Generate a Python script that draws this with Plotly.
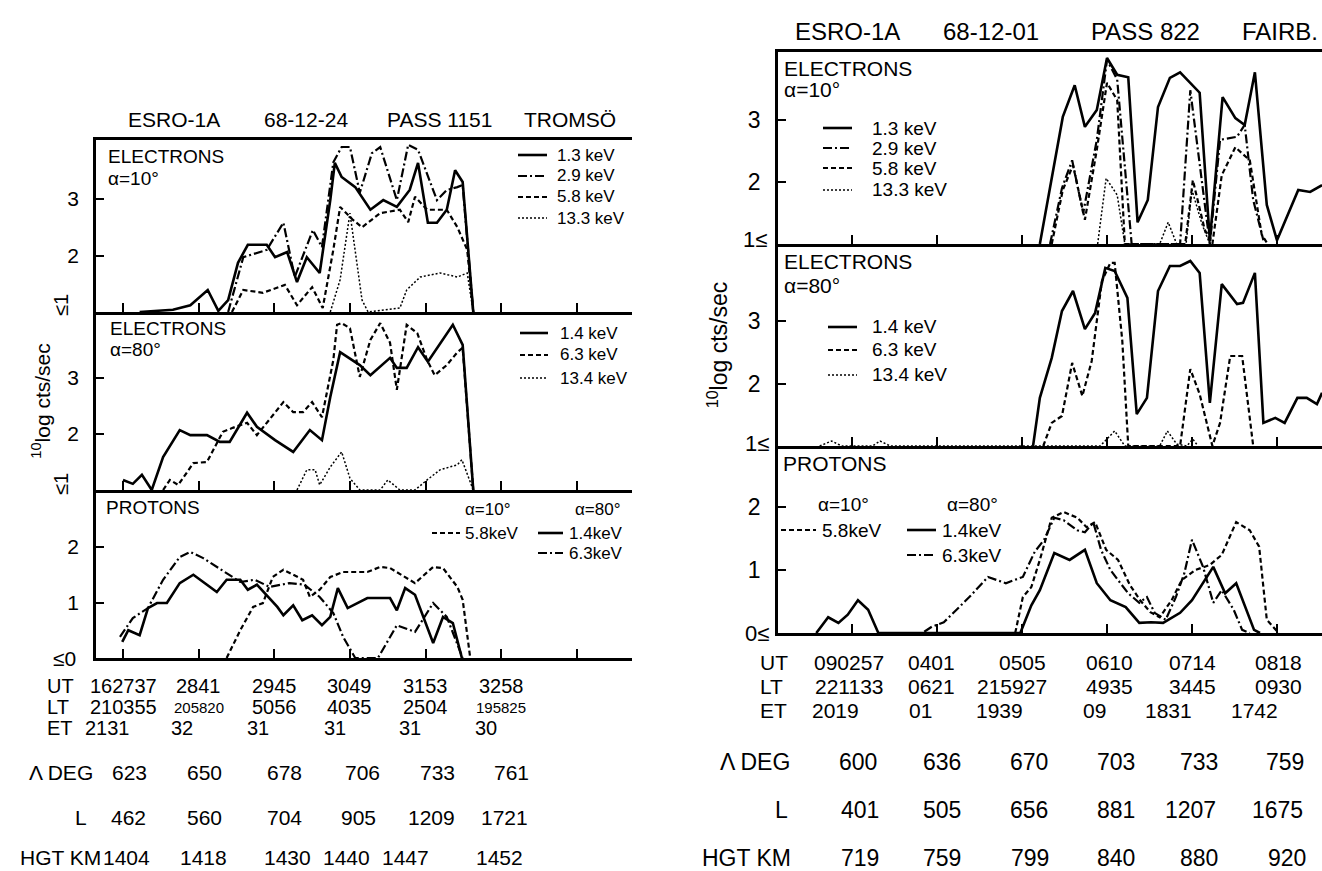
import plotly.graph_objects as go

W, H = 1322, 871
FONT = "Liberation Sans, Arial, Helvetica, sans-serif"

# ---------------- DATA ----------------
# x in UT-tick units (0 = first labelled UT tick), y = 10log cts/sec
# Left panel: ESRO-1A 68-12-24 PASS 1151 TROMSO
L_e10_13_x = [0.22,0.66,0.89,1.12,1.26,1.39,1.52,1.65,1.90,2.01,2.17,2.30,2.43,2.60,2.74,2.80,2.89,3.07,3.27,3.44,3.62,3.79,3.90,4.03,4.15,4.28,4.39,4.49,4.63]
L_e10_13_y = [1.0,1.04,1.12,1.39,1.02,1.21,1.87,2.19,2.19,1.97,2.06,1.53,1.97,1.69,2.98,3.64,3.39,3.21,2.81,2.98,2.86,3.16,3.64,2.58,2.58,2.81,3.51,3.30,1.0]
L_e10_29_x = [1.39,1.59,1.90,2.12,2.27,2.51,2.63,2.78,2.89,3.00,3.13,3.29,3.40,3.62,3.77,3.90,4.15,4.28,4.42,4.49,4.63]
L_e10_29_y = [1.0,1.97,2.10,2.58,1.62,2.45,2.15,3.65,3.92,3.92,3.11,3.81,3.92,2.98,3.96,3.87,2.98,3.16,3.21,3.25,1.0]
L_e10_58_x = [1.44,1.59,1.85,2.14,2.30,2.50,2.64,2.78,2.87,3.04,3.16,3.40,3.66,3.77,3.86,4.02,4.28,4.42,4.55,4.63]
L_e10_58_y = [1.0,1.39,1.34,1.48,1.12,1.44,1.07,2.10,2.86,2.63,2.50,2.75,2.81,2.59,3.04,2.81,2.81,2.50,2.10,1.0]
L_e10_133_x = [2.74,2.87,3.00,3.16,3.24,3.66,3.75,3.93,4.19,4.42,4.55,4.63]
L_e10_133_y = [1.0,1.57,2.75,1.21,1.0,1.07,1.39,1.62,1.69,1.62,1.69,1.0]

L_e80_14_x = [0.0,0.13,0.25,0.38,0.53,0.75,0.89,1.11,1.28,1.41,1.64,1.77,2.01,2.25,2.47,2.63,2.74,2.87,3.13,3.27,3.53,3.62,3.75,3.90,4.03,4.36,4.49,4.63]
L_e80_14_y = [1.18,1.11,1.27,1.0,1.59,2.07,1.98,1.98,1.86,1.86,2.38,2.13,1.89,1.68,2.07,1.89,2.66,3.46,3.23,3.05,3.36,3.18,3.18,3.55,3.29,3.95,3.59,1.0]
L_e80_63_x = [0.53,0.62,0.73,0.93,1.11,1.32,1.45,1.64,1.77,2.12,2.25,2.38,2.50,2.63,2.78,2.83,2.89,3.00,3.13,3.27,3.40,3.53,3.62,3.75,3.89,4.02,4.12,4.28,4.42,4.49,4.63]
L_e80_63_y = [1.0,1.18,1.09,1.48,1.50,2.04,2.11,2.20,1.98,2.57,2.39,2.39,2.57,2.30,3.32,3.95,3.98,3.89,3.02,3.68,3.98,3.63,2.79,3.95,3.80,3.32,3.05,3.23,3.46,3.54,1.0]
L_e80_134_x = [2.30,2.43,2.54,2.60,2.74,2.89,3.00,3.13,3.40,3.50,3.66,3.86,4.02,4.19,4.42,4.48,4.63]
L_e80_134_y = [1.0,1.36,1.36,1.09,1.41,1.68,1.21,1.0,1.0,1.18,1.0,1.0,1.18,1.36,1.45,1.54,1.0]

L_p10_58_x = [1.37,1.55,1.72,1.85,1.98,2.12,2.25,2.38,2.47,2.60,2.74,2.91,3.23,3.40,3.53,3.86,4.10,4.23,4.42,4.49,4.59]
L_p10_58_y = [0.0,0.50,0.92,0.99,1.46,1.59,1.50,1.41,1.10,1.23,1.46,1.55,1.55,1.64,1.62,1.35,1.64,1.62,1.28,1.05,0.0]
L_p80_14_x = [-0.01,0.07,0.22,0.33,0.45,0.58,0.75,0.93,1.11,1.24,1.37,1.55,1.65,1.77,2.04,2.12,2.25,2.37,2.50,2.63,2.74,2.84,2.97,3.23,3.53,3.62,3.73,3.86,4.10,4.23,4.36,4.48]
L_p80_14_y = [0.29,0.50,0.41,0.90,0.99,0.99,1.35,1.50,1.32,1.19,1.41,1.41,1.23,1.32,0.92,0.77,0.95,0.68,0.77,0.59,0.74,1.26,0.90,1.08,1.08,0.86,1.26,1.14,0.27,0.74,0.63,0.0]
L_p80_63_x = [-0.04,0.13,0.33,0.53,0.75,0.89,1.06,1.37,1.55,1.74,1.94,2.20,2.40,2.60,2.78,2.91,3.07,3.37,3.62,3.86,4.10,4.28,4.43,4.49]
L_p80_63_y = [0.38,0.72,0.90,1.41,1.82,1.91,1.80,1.53,1.37,1.41,1.28,1.35,1.32,1.10,0.81,0.38,0.0,0.0,0.59,0.47,0.99,0.74,0.20,0.0]

# Right panel: ESRO-1A 68-12-01 PASS 822 FAIRB.
R_e10_13_x = [2.21,2.48,2.62,2.74,2.88,3.00,3.12,3.25,3.36,3.48,3.60,3.74,3.86,4.09,4.21,4.36,4.51,4.62,4.74,4.88,5.00,5.25,5.39,5.53]
R_e10_13_y = [1.0,3.05,3.56,2.89,3.16,4.0,3.73,3.69,1.35,1.71,3.21,3.68,3.77,3.44,1.06,3.37,3.03,2.92,3.77,1.63,1.06,1.87,1.84,1.95]
R_e10_29_x = [2.33,2.47,2.59,2.72,2.88,3.00,3.12,3.19,3.29,3.86,3.98,4.21,4.33,4.53,4.62,4.72,4.84]
R_e10_29_y = [1.0,1.90,2.35,1.50,2.68,3.97,3.65,2.52,1.0,1.0,3.48,1.0,2.68,2.73,2.92,1.71,1.06]
R_e10_58_x = [2.35,2.48,2.60,2.74,2.88,3.00,3.12,3.21,3.92,4.01,4.15,4.24,4.35,4.51,4.68,4.82,4.89]
R_e10_58_y = [1.0,1.87,2.27,1.39,2.52,3.60,3.32,1.0,1.0,2.03,1.23,1.0,2.11,2.56,2.35,1.15,1.0]
R_e10_133_x = [2.89,2.99,3.12,3.21,3.62,3.72,3.82,3.93,4.00,4.12,4.21]
R_e10_133_y = [1.0,2.06,1.79,1.0,1.0,1.35,1.0,1.0,1.87,1.31,1.0]

R_e80_14_x = [2.13,2.21,2.35,2.47,2.60,2.74,2.86,2.98,3.09,3.24,3.35,3.47,3.60,3.74,3.86,3.98,4.09,4.21,4.35,4.53,4.60,4.74,4.84,4.98,5.09,5.24,5.35,5.47,5.53]
R_e80_14_y = [1.0,1.77,2.41,3.16,3.48,2.87,3.13,3.85,3.80,3.37,1.51,1.77,3.48,3.88,3.88,3.96,3.77,1.69,3.59,3.27,3.29,3.77,1.37,1.45,1.37,1.77,1.77,1.67,1.85]
R_e80_63_x = [2.25,2.35,2.47,2.59,2.71,2.82,2.94,3.04,3.09,3.18,3.25,3.86,3.98,4.09,4.24,4.33,4.45,4.59,4.72]
R_e80_63_y = [1.0,1.37,1.48,2.33,1.80,2.36,3.64,3.93,3.93,2.68,1.0,1.0,2.23,1.83,1.0,1.37,2.44,2.44,1.0]
R_e80_134_x = [-0.38,-0.24,-0.12,0.24,0.33,0.45,2.92,3.09,3.21,3.62,3.71,3.82,3.94,4.01,4.07]
R_e80_134_y = [1.0,1.08,1.0,1.0,1.08,1.0,1.0,1.24,1.0,1.0,1.24,1.03,1.0,1.11,1.0]

R_p10_58_x = [1.92,2.01,2.11,2.21,2.35,2.49,2.65,2.76,2.86,2.99,3.13,3.27,3.39,3.51,3.62,3.76,3.88,4.04,4.21,4.35,4.52,4.68,4.79,4.88,5.02]
R_p10_58_y = [0.0,0.57,0.73,1.16,1.83,1.92,1.83,1.68,1.76,1.32,1.16,0.76,0.52,0.33,0.25,0.52,0.84,1.0,1.08,1.24,1.76,1.63,1.37,0.21,0.0]
R_p80_63_x = [0.85,0.94,1.08,1.38,1.60,1.81,2.01,2.15,2.26,2.38,2.49,2.65,2.74,2.84,2.93,3.04,3.13,3.25,3.38,3.47,3.56,3.69,3.81,3.91,4.00,4.13,4.25,4.35,4.49,4.59,4.68]
R_p80_63_y = [0.02,0.10,0.17,0.57,0.89,0.79,0.89,1.29,1.48,1.83,1.79,1.63,1.60,1.75,1.32,1.0,0.84,0.63,0.48,0.57,0.32,0.21,0.57,0.95,1.48,1.05,0.48,0.68,0.37,0.05,0.0]
R_p80_14_x = [-0.42,-0.28,-0.16,-0.05,0.07,0.19,0.31,1.98,2.11,2.21,2.38,2.56,2.74,2.88,3.04,3.22,3.38,3.52,3.66,3.86,4.00,4.13,4.25,4.39,4.52,4.73,4.80]
R_p80_14_y = [0.0,0.25,0.16,0.29,0.52,0.37,0.0,0.0,0.44,0.68,1.27,1.16,1.32,0.79,0.52,0.41,0.16,0.17,0.16,0.32,0.52,0.79,1.05,0.63,0.79,0.05,0.0]

# ---- tick / table labels ----
L_UT = ["162737", "2841", "2945", "3049", "3153", "3258"]
L_LT = ["210355", "205820", "5056", "4035", "2504", "195825"]
L_ET = ["2131", "32", "31", "31", "31", "30"]
L_DEG = ["623", "650", "678", "706", "733", "761"]
L_L = ["462", "560", "704", "905", "1209", "1721"]
L_HGT = ["1404", "1418", "1430", "1440", "1447", "1452"]

R_UT = ["090257", "0401", "0505", "0610", "0714", "0818"]
R_LT = ["221133", "0621", "215927", "4935", "3445", "0930"]
R_ET = ["2019", "01", "1939", "09", "1831", "1742"]
R_DEG = ["600", "636", "670", "703", "733", "759"]
R_L = ["401", "505", "656", "881", "1207", "1675"]
R_HGT = ["719", "759", "799", "840", "880", "920"]

# label positions along the UT axis (tick units)
L_UT_pos = [0, 1, 2, 3, 4, 5]
L_ET_pos = [-0.21, 0.78, 1.79, 2.8, 3.8, 4.8]
L_DEG_pos = [0.08, 1.08, 2.13, 3.16, 4.16, 5.13]
L_L_pos = [0.07, 1.08, 2.13, 3.11, 4.08, 5.04]
L_HGT_pos = [0.04, 1.07, 2.17, 2.95, 3.73, 4.98]
R_UT_pos = [-0.03, 0.93, 2.0, 3.03, 4.0, 5.02]
R_LT_pos = [-0.03, 0.93, 1.88, 3.03, 4.0, 5.02]
R_ET_pos = [-0.2, 0.8, 1.73, 2.85, 3.72, 4.73]
R_DEG_pos = [0.07, 1.06, 2.08, 3.11, 4.08, 5.09]
R_L_pos = [0.09, 1.06, 2.08, 3.11, 3.98, 5.01]
R_HGT_pos = [0.09, 1.06, 2.09, 3.11, 4.08, 5.12]

# ---------------- STYLE / LAYOUT ----------------
def px(x):
    return x / W

def py(y):
    return 1 - y / H

STY = {
    "solid": dict(color="black", width=2.6, dash="solid"),
    "dashdot": dict(color="black", width=2.2, dash="9px,3px,2px,3px"),
    "dash": dict(color="black", width=2.2, dash="5px,3px"),
    "dot": dict(color="black", width=1.5, dash="2px,2px"),
}

PANELS = {
    "L": dict(x0=96, x1=632, t0=123, dt=75.65, nt=7,
              rows=[(140, 312, 1, 56.5), (312, 490, 1, 56.0), (490, 658, 0, 55.5)], fs=21, tstand=12),
    "R": dict(x0=778, x1=1322, t0=852, dt=85.0, nt=6,
              rows=[(52, 244, 1, 62.0), (244, 446, 1, 62.5), (446, 633, 0, 63.0)], fs=23, tstand=14),
}

fig = go.Figure()
layout = dict(width=W, height=H, margin=dict(l=0, r=0, t=0, b=0),
              paper_bgcolor="white", plot_bgcolor="rgba(0,0,0,0)",
              showlegend=False, font=dict(family=FONT, color="black"))

ax_index = {}
k = 0
for pname, P in PANELS.items():
    for r, (top, bot, vb, dy) in enumerate(P["rows"]):
        k += 1
        ax_index[(pname, r)] = k
        xs = "" if k == 1 else str(k)
        xr = [(P["x0"] - P["t0"]) / P["dt"], (P["x1"] - P["t0"]) / P["dt"]]
        yr = [vb, vb + (bot - top) / dy]
        layout["xaxis" + xs] = dict(domain=[px(P["x0"]), px(P["x1"])], range=xr, anchor="y" + xs,
                                   showline=True, linewidth=2.5, linecolor="black",
                                   mirror=(r == 0), ticks="inside", ticklen=9, tickwidth=2,
                                   tickcolor="black", tickvals=list(range(P["nt"])),
                                   showticklabels=False, showgrid=False, zeroline=False)
        tv = [2, 3] if r < 2 else [1, 2]
        yax = dict(domain=[py(bot), py(top)], range=yr, anchor="x" + xs,
                   showline=True, linewidth=2.5, linecolor="black",
                   ticks="inside", ticklen=8, tickwidth=2, tickcolor="black",
                   tickvals=tv, ticktext=[str(v) for v in tv],
                   tickfont=dict(size=P["fs"], family=FONT),
                   ticklabelstandoff=10, showgrid=False, zeroline=False)
        if r == 1:
            yax["title"] = dict(text="<sup>10</sup>log cts/sec", standoff=P["tstand"],
                                font=dict(size=P["fs"], family=FONT, color="black"))
        layout["yaxis" + xs] = yax

series = [
    ("L", 0, L_e10_13_x, L_e10_13_y, "solid"),
    ("L", 0, L_e10_29_x, L_e10_29_y, "dashdot"),
    ("L", 0, L_e10_58_x, L_e10_58_y, "dash"),
    ("L", 0, L_e10_133_x, L_e10_133_y, "dot"),
    ("L", 1, L_e80_14_x, L_e80_14_y, "solid"),
    ("L", 1, L_e80_63_x, L_e80_63_y, "dash"),
    ("L", 1, L_e80_134_x, L_e80_134_y, "dot"),
    ("L", 2, L_p10_58_x, L_p10_58_y, "dash"),
    ("L", 2, L_p80_14_x, L_p80_14_y, "solid"),
    ("L", 2, L_p80_63_x, L_p80_63_y, "dashdot"),
    ("R", 0, R_e10_13_x, R_e10_13_y, "solid"),
    ("R", 0, R_e10_29_x, R_e10_29_y, "dashdot"),
    ("R", 0, R_e10_58_x, R_e10_58_y, "dash"),
    ("R", 0, R_e10_133_x, R_e10_133_y, "dot"),
    ("R", 1, R_e80_14_x, R_e80_14_y, "solid"),
    ("R", 1, R_e80_63_x, R_e80_63_y, "dash"),
    ("R", 1, R_e80_134_x, R_e80_134_y, "dot"),
    ("R", 2, R_p10_58_x, R_p10_58_y, "dash"),
    ("R", 2, R_p80_14_x, R_p80_14_y, "solid"),
    ("R", 2, R_p80_63_x, R_p80_63_y, "dashdot"),
]
for pname, r, xv, yv, st in series:
    i = ax_index[(pname, r)]
    s = "" if i == 1 else str(i)
    fig.add_trace(go.Scatter(x=xv, y=yv, mode="lines", line=STY[st], xaxis="x" + s, yaxis="y" + s,
                             hoverinfo="skip", showlegend=False))

ann = []
shapes = []

def text(t, x, y, size, xa="center", ya="middle", angle=0, xref="paper"):
    ann.append(dict(text=t, x=x if xref != "paper" else px(x), y=py(y), xref=xref, yref="paper",
                    xanchor=xa, yanchor=ya, showarrow=False, textangle=angle,
                    font=dict(size=size, family=FONT, color="black")))

def key(x0, x1, y, st):
    d = dict(STY[st])
    shapes.append(dict(type="line", xref="paper", yref="paper", x0=px(x0), x1=px(x1),
                       y0=py(y), y1=py(y), line=d))

# titles
for t, x in [("ESRO-1A", 174), ("68-12-24", 306), ("PASS 1151", 440), ("TROMSÖ", 570)]:
    text(t, x, 120, 21)
for t, x in [("ESRO-1A", 847), ("68-12-01", 991), ("PASS 822", 1145), ("FAIRB.", 1280)]:
    text(t, x, 32, 24)

# panel labels
text("ELECTRONS", 106, 157, 19, "left")
text("α=10°", 106, 178, 19, "left")
text("ELECTRONS", 108, 328, 19, "left")
text("α=80°", 108, 350, 19, "left")
text("PROTONS", 104, 507, 19, "left")
text("ELECTRONS", 782, 68, 21, "left")
text("α=10°", 782, 89, 21, "left")
text("ELECTRONS", 782, 261, 21, "left")
text("α=80°", 782, 285, 21, "left")
text("PROTONS", 781, 463, 21, "left")

# lower-limit labels
text("≤1", 61, 305, 20, angle=-90)
text("≤1", 61, 484, 20, angle=-90)
text("≤0", 64, 658, 21)
text("1≤", 755, 240, 22)
text("1≤", 757, 443, 22)
text("0≤", 757, 633, 22)

# legends (left)
for (lab, st), yy in zip([("1.3 keV", "solid"), ("2.9 keV", "dashdot"), ("5.8 keV", "dash"), ("13.3 keV", "dot")],
                         [155, 176, 197, 218]):
    key(518, 547, yy, st)
    text(lab, 555, yy, 17, "left")
for (lab, st), yy in zip([("1.4 keV", "solid"), ("6.3 keV", "dash"), ("13.4 keV", "dot")], [333, 355, 378]):
    key(520, 548, yy, st)
    text(lab, 558, yy, 17, "left")
text("α=10°", 487, 510, 17)
text("α=80°", 597, 510, 17)
key(432, 460, 533, "dash"); text("5.8keV", 463, 533, 17, "left")
key(538, 563, 533, "solid"); text("1.4keV", 567, 533, 17, "left")
key(538, 563, 553, "dashdot"); text("6.3keV", 567, 553, 17, "left")

# legends (right)
for (lab, st), yy in zip([("1.3 keV", "solid"), ("2.9 keV", "dashdot"), ("5.8 keV", "dash"), ("13.3 keV", "dot")],
                         [128, 148, 168, 190]):
    key(823, 852, yy, st)
    text(lab, 870, yy, 19, "left")
for (lab, st), yy in zip([("1.4 keV", "solid"), ("6.3 keV", "dash"), ("13.4 keV", "dot")], [327, 350, 375]):
    key(828, 857, yy, st)
    text(lab, 870, yy, 19, "left")
text("α=10°", 843, 505, 19)
text("α=80°", 972, 505, 19)
key(781, 816, 530, "dash"); text("5.8keV", 820, 530, 19, "left")
key(907, 936, 530, "solid"); text("1.4keV", 940, 530, 19, "left")
key(907, 936, 555, "dashdot"); text("6.3keV", 940, 555, 19, "left")

# bottom tables
xl = "x3"
LROW = [686, 707, 728]
text("UT", 45, LROW[0], 20, "left"); text("LT", 45, LROW[1], 20, "left"); text("ET", 45, LROW[2], 20, "left")
for i in range(6):
    text(L_UT[i], L_UT_pos[i], LROW[0], 20, xref=xl)
    small = L_LT[i] in ("205820", "195825")
    text(L_LT[i], L_UT_pos[i], LROW[1], 15 if small else 20, xref=xl)
    text(L_ET[i], L_ET_pos[i], LROW[2], 20, xref=xl)
    text(L_DEG[i], L_DEG_pos[i], 772, 21, xref=xl)
    text(L_L[i], L_L_pos[i], 817, 21, xref=xl)
    text(L_HGT[i], L_HGT_pos[i], 857, 21, xref=xl)
text("Λ DEG", 95, 772, 21, "right")
text("L", 89, 817, 21, "right")
text("HGT KM", 103, 857, 21, "right")

xr_ = "x6"
RROW = [662, 686, 710]
text("UT", 758, RROW[0], 21, "left"); text("LT", 758, RROW[1], 21, "left"); text("ET", 758, RROW[2], 21, "left")
for i in range(6):
    text(R_UT[i], R_UT_pos[i], RROW[0], 21, xref=xr_)
    text(R_LT[i], R_LT_pos[i], RROW[1], 21, xref=xr_)
    text(R_ET[i], R_ET_pos[i], RROW[2], 21, xref=xr_)
    text(R_DEG[i], R_DEG_pos[i], 762, 23, xref=xr_)
    text(R_L[i], R_L_pos[i], 810, 23, xref=xr_)
    text(R_HGT[i], R_HGT_pos[i], 858, 23, xref=xr_)
text("Λ DEG", 792, 762, 23, "right")
text("L", 790, 810, 23, "right")
text("HGT KM", 793, 858, 23, "right")

layout["annotations"] = ann
layout["shapes"] = shapes
fig.update_layout(**layout)
fig.write_html("out.html")
